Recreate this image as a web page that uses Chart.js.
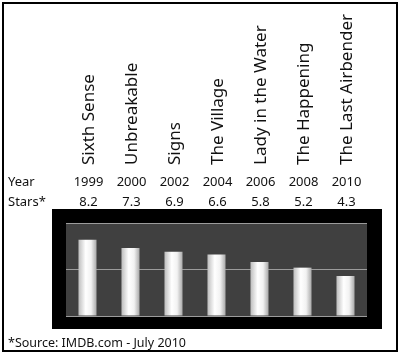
<!DOCTYPE html>
<html>
<head>
<meta charset="utf-8">
<script src="https://cdn.jsdelivr.net/npm/chart.js@4.4.0/dist/chart.umd.min.js"></script>
<style>
  html, body { margin: 0; padding: 0; background: #fff; }
  #wrap { position: relative; width: 400px; height: 354px; }
</style>
</head>
<body>
<div id="wrap"><canvas id="myChart" width="400" height="354"></canvas></div>
<script>
// movie data
var movies = ["Sixth Sense", "Unbreakable", "Signs", "The Village", "Lady in the Water", "The Happening", "The Last Airbender"];
var years = ["1999", "2000", "2002", "2004", "2006", "2008", "2010"];
var stars = [8.2, 7.3, 6.9, 6.6, 5.8, 5.2, 4.3];
var rowLabels = ["Year", "Stars*"];
var source = "*Source: IMDB.com - July 2010";

var font = "'Noto Sans', sans-serif";

// frame, black box, titles and the little table above the plot
var decor = {
  id: 'decor',
  beforeDraw: function(chart) {
    var c = chart.ctx, a = chart.chartArea;
    c.save();
    c.fillStyle = '#fff';
    c.fillRect(0, 0, chart.width, chart.height);
    c.strokeStyle = '#000';
    c.lineWidth = 2;
    c.strokeRect(3, 3, 394, 348);
    c.fillStyle = '#000';
    c.fillRect(a.left - 14, a.top - 14, a.right - a.left + 29, a.bottom - a.top + 27);
    c.fillStyle = '#404040';
    c.fillRect(a.left, a.top, a.right - a.left, a.bottom - a.top);
    c.restore();
  },
  afterDraw: function(chart) {
    var c = chart.ctx, x = chart.scales.x;
    c.save();
    c.fillStyle = '#111';
    // rotated titles
    c.font = '17px ' + font;
    c.textAlign = 'left';
    c.textBaseline = 'middle';
    movies.forEach(function(m, i) {
      c.save();
      c.translate(x.getPixelForValue(i) + 2, 165);
      c.rotate(-Math.PI / 2);
      c.fillText(m, 0, 0);
      c.restore();
    });
    // table rows
    c.font = '13px ' + font;
    c.textAlign = 'left';
    c.fillText(rowLabels[0], 8, 182);
    c.fillText(rowLabels[1], 8, 202);
    c.textAlign = 'center';
    years.forEach(function(y, i) {
      c.fillText(y, x.getPixelForValue(i) + 1, 182);
    });
    stars.forEach(function(s, i) {
      c.fillText(s.toFixed(1), x.getPixelForValue(i) + 1, 202);
    });
    c.textAlign = 'left';
    c.font = '12.5px ' + font;
    c.fillText(source, 8, 343);
    c.restore();
  }
};

function barFill(ctx) {
  var chart = ctx.chart;
  if (!chart.chartArea || !chart.scales.x) return '#e0e0e0';
  var xs = chart.scales.x;
  var w = xs.getPixelForValue(1) - xs.getPixelForValue(0);
  var cx = xs.getPixelForValue(ctx.dataIndex);
  var half = w * 0.42 / 2;
  var g = chart.ctx.createLinearGradient(cx - half, 0, cx + half, 0);
  g.addColorStop(0, '#bdbdbd');
  g.addColorStop(0.4, '#ffffff');
  g.addColorStop(0.7, '#f2f2f2');
  g.addColorStop(1, '#a9a9a9');
  return g;
}

var ctx = document.getElementById("myChart");
var chart = new Chart(ctx, {
  type: 'bar',
  data: {
    labels: movies,
    datasets: [{
      data: stars,
      backgroundColor: barFill,
      borderWidth: 0,
      barPercentage: 0.42,
      categoryPercentage: 1
    }]
  },
  options: {
    responsive: false,
    animation: false,
    layout: { padding: { left: 66, right: 33, top: 223, bottom: 38 } },
    plugins: { legend: { display: false }, tooltip: { enabled: false } },
    scales: {
      x: { display: false },
      y: {
        min: 0, max: 10,
        ticks: { display: false, stepSize: 5 },
        border: { display: false },
        grid: { color: '#9c9c9c', drawTicks: false, lineWidth: 1 }
      }
    }
  },
  plugins: [decor]
});
</script>
</body>
</html>
